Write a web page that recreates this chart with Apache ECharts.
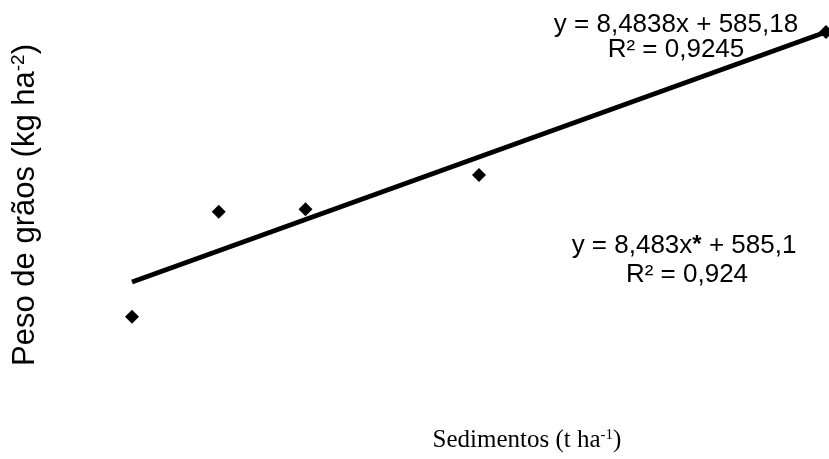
<!DOCTYPE html>
<html>
<head>
<meta charset="utf-8">
<script src="https://cdn.jsdelivr.net/npm/echarts@6/dist/echarts.min.js"></script>
<style>
    html, body {margin: 0; padding: 0; background: #fff;}
    #main {width: 829px; height: 459px;}
</style>
</head>
<body>
<div id="main"></div>
<script>
// sediment levels (t ha-1) and grain weight (kg ha-2)
let sedimentos = [0, 5, 10, 20, 40];
let pesoGraos = [538, 680.5, 684, 730.5, 924.5];

// fitted line y = 8,4838x + 585,18
let trendX = [0, 40];
let trendY = [585.18, 924.53];

let eq1 = ["y = 8,4838x + 585,18", "R² = 0,9245"];
let eq2 = ["y = 8,483x", "*", " + 585,1", "R² = 0,924"];

let chart = echarts.init(document.getElementById('main'));

let points = [];
for (let i = 0; i < sedimentos.length; i++) {
    points.push([sedimentos[i], pesoGraos[i]]);
}
let trend = [];
for (let i = 0; i < trendX.length; i++) {
    trend.push([trendX[i], trendY[i]]);
}

let sans = 'Arial, "Liberation Sans", sans-serif';

let option = {
    backgroundColor: '#fff',
    animation: false,
    grid: {left: 132, right: 3, top: 13.24, bottom: 114.25},
    xAxis: {
        type: 'value', min: 0, max: 40,
        show: false
    },
    yAxis: {
        type: 'value', min: 500, max: 950,
        show: false
    },
    series: [{
        type: 'line',
        data: trend,
        symbol: 'none',
        lineStyle: {color: '#000', width: 5, cap: 'butt'},
        z: 2
    }, {
        type: 'scatter',
        data: points,
        symbol: 'diamond',
        symbolSize: 14,
        itemStyle: {color: '#000', opacity: 1},
        z: 3
    }],
    graphic: [{
        type: 'text',
        x: 676, y: 25,
        style: {text: eq1[0], font: '26px ' + sans, fill: '#000', align: 'center', verticalAlign: 'middle'}
    }, {
        type: 'text',
        x: 676, y: 50,
        style: {text: eq1[1], font: '26px ' + sans, fill: '#000', align: 'center', verticalAlign: 'middle'}
    }, {
        type: 'text',
        x: 684, y: 246,
        style: {
            text: eq2[0] + '{ast|' + eq2[1] + '}' + eq2[2],
            font: '26px ' + sans, fill: '#000', align: 'center', verticalAlign: 'middle',
            rich: {ast: {fontSize: 24, fontWeight: 'bold', fontFamily: sans, verticalAlign: 'top', fill: '#000'}}
        }
    }, {
        type: 'text',
        x: 687, y: 275,
        style: {text: eq2[3], font: '26px ' + sans, fill: '#000', align: 'center', verticalAlign: 'middle'}
    }, {
        type: 'text',
        x: 25, y: 205,
        rotation: Math.PI / 2,
        style: {
            text: 'Peso de grãos (kg ha{sup|-2})',
            font: '31px ' + sans, fill: '#000', align: 'center', verticalAlign: 'middle',
            rich: {sup: {fontSize: 19, fontFamily: sans, verticalAlign: 'top', fill: '#000'}}
        }
    }, {
        type: 'text',
        x: 527, y: 440,
        style: {
            text: 'Sedimentos (t ha{sup|-1})',
            font: '25px "Liberation Serif", "Times New Roman", serif', fill: '#000', align: 'center', verticalAlign: 'middle',
            rich: {sup: {fontSize: 15, fontFamily: '"Liberation Serif", serif', verticalAlign: 'top', fill: '#000'}}
        }
    }]
};

chart.setOption(option);
</script>
</body>
</html>
